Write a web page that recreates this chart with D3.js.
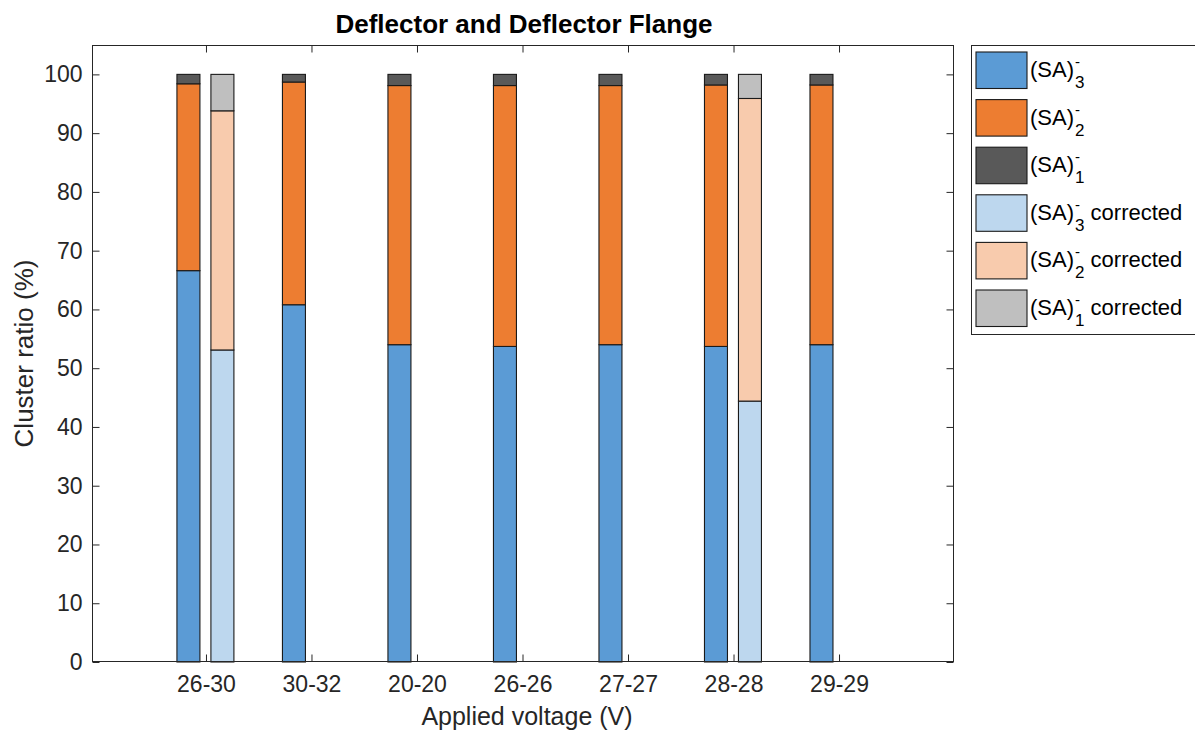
<!DOCTYPE html>
<html>
<head>
<meta charset="utf-8">
<script src="https://cdn.jsdelivr.net/npm/d3@7"></script>
<style>
  html, body { margin: 0; padding: 0; background: #fff; }
  svg { display: block; font-family: "Liberation Sans", Arial, Helvetica, sans-serif; }
</style>
</head>
<body>
<svg id="chart" width="1195" height="733"></svg>
<script>
// ---- data ----
const categories = ["26-30", "30-32", "20-20", "26-26", "27-27", "28-28", "29-29"];
// measured (original) cluster ratios (%)
const sa3 = [66.6, 60.8, 54.0, 53.7, 54.0, 53.7, 54.0];
const sa2 = [31.8, 37.9, 44.1, 44.4, 44.1, 44.5, 44.2];
const sa1 = [1.6, 1.3, 1.9, 1.9, 1.9, 1.8, 1.8];
// corrected cluster ratios (%) – only available for two voltages
const sa3c = [53.1, 0, 0, 0, 0, 44.4, 0];
const sa2c = [40.7, 0, 0, 0, 0, 51.5, 0];
const sa1c = [6.2, 0, 0, 0, 0, 4.1, 0];
const yTicks = [0, 10, 20, 30, 40, 50, 60, 70, 80, 90, 100];
const seriesNames = ["3", "2", "1", "3", "2", "1"];
const seriesSuffix = ["", "", "", " corrected", " corrected", " corrected"];
const colors = ["#5b9bd5", "#ed7d31", "#595959", "#bdd7ee", "#f8cbad", "#bfbfbf"];

// ---- layout ----
const svg = d3.select("#chart");
const L = 92, R = 954, T = 45, B = 662;
const ink = "#262626";

const x = d3.scaleBand().domain(categories).range([L, R]).paddingInner(0).paddingOuter(0.585);
const bw = x.bandwidth();
const xSub = d3.scaleBand().domain(["orig", "corr"]).range([bw * 0.22, bw * 0.76]).paddingInner(0.3235).paddingOuter(0);
const y = d3.scaleLinear().domain([0, 105]).range([B, T]);

// stacks
const origRows = categories.map((c, i) => ({ cat: c, a: sa3[i], b: sa2[i], c: sa1[i] }));
const corrRows = categories.map((c, i) => ({ cat: c, a: sa3c[i], b: sa2c[i], c: sa1c[i] }));
const stack = d3.stack().keys(["a", "b", "c"]);
const origStack = stack(origRows);
const corrStack = stack(corrRows);

svg.append("rect").attr("x", L).attr("y", T).attr("width", R - L).attr("height", B - T).attr("fill", "#fff");

function drawStack(st, group, colorOffset) {
  st.forEach((layer, k) => {
    svg.append("g").selectAll("rect").data(layer).join("rect")
      .attr("x", d => x(d.data.cat) + xSub(group))
      .attr("width", xSub.bandwidth())
      .attr("y", d => y(d[1]))
      .attr("height", d => Math.max(0, y(d[0]) - y(d[1])))
      .attr("fill", colors[colorOffset + k])
      .attr("stroke", "#1a1a1a")
      .attr("stroke-width", 1.1);
  });
}
drawStack(origStack, "orig", 0);
drawStack(corrStack, "corr", 3);

// axes box
svg.append("rect").attr("x", L + 0.5).attr("y", T + 0.5).attr("width", R - L - 1).attr("height", B - T - 1)
  .attr("fill", "none").attr("stroke", ink).attr("stroke-width", 1);

const tickFont = 23;
// y axis (ticks inward, mirrored)
const gy = svg.append("g").attr("transform", `translate(${L + 0.5},0)`)
  .call(d3.axisLeft(y).tickValues(yTicks).tickSizeInner(-7).tickSizeOuter(0).tickPadding(10));
gy.select(".domain").remove();
gy.selectAll("line").attr("stroke", ink);
gy.selectAll("text").attr("fill", ink).attr("font-size", tickFont).attr("font-family", "Liberation Sans, Arial, sans-serif");

const gyr = svg.append("g").attr("transform", `translate(${R - 0.5},0)`)
  .call(d3.axisRight(y).tickValues(yTicks).tickSizeInner(-7).tickSizeOuter(0).tickFormat(""));
gyr.select(".domain").remove();
gyr.selectAll("line").attr("stroke", ink);

// x axis
const gx = svg.append("g").attr("transform", `translate(0,${B - 0.5})`)
  .call(d3.axisBottom(x).tickSizeInner(-7).tickSizeOuter(0).tickPadding(14));
gx.select(".domain").remove();
gx.selectAll("line").attr("stroke", ink);
gx.selectAll("text").attr("fill", ink).attr("font-size", tickFont).attr("font-family", "Liberation Sans, Arial, sans-serif");

const gxt = svg.append("g").attr("transform", `translate(0,${T + 0.5})`)
  .call(d3.axisTop(x).tickSizeInner(-7).tickSizeOuter(0).tickFormat(""));
gxt.select(".domain").remove();
gxt.selectAll("line").attr("stroke", ink);

// title & labels
svg.append("text").attr("x", (L + R) / 2 + 1).attr("y", 33).attr("text-anchor", "middle")
  .attr("font-size", 26).attr("font-weight", "bold").attr("fill", "#000")
  .text("Deflector and Deflector Flange");
svg.append("text").attr("x", (L + R) / 2 + 4).attr("y", 725).attr("text-anchor", "middle")
  .attr("font-size", 25).attr("fill", ink).text("Applied voltage (V)");
svg.append("text").attr("transform", `translate(33,${(T + B) / 2}) rotate(-90)`).attr("text-anchor", "middle")
  .attr("font-size", 26).attr("fill", ink).text("Cluster ratio (%)");

// legend
const lgX = 971, lgY = 45, lgStep = 47.6;
svg.append("rect").attr("x", lgX + 0.5).attr("y", lgY + 0.5).attr("width", 300).attr("height", 289)
  .attr("fill", "#fff").attr("stroke", ink).attr("stroke-width", 1);
seriesNames.forEach((n, i) => {
  const gy0 = lgY + 7 + i * lgStep;
  const g = svg.append("g");
  g.append("rect").attr("x", lgX + 5).attr("y", gy0).attr("width", 51).attr("height", 36.5)
    .attr("fill", colors[i]).attr("stroke", "#1a1a1a").attr("stroke-width", 1.1);
  const base = gy0 + 25;
  const t = g.append("text").attr("x", lgX + 59).attr("y", base).attr("font-size", 22).attr("fill", "#000").text("(SA)");
  const w = t.node().getComputedTextLength();
  const sx = lgX + 59 + w + 1;
  g.append("text").attr("x", sx).attr("y", base - 10).attr("font-size", 15).attr("fill", "#000").text("-");
  const sub = g.append("text").attr("x", sx).attr("y", base + 11).attr("font-size", 17).attr("fill", "#000").text(n);
  const sw = sub.node().getComputedTextLength();
  if (seriesSuffix[i]) {
    g.append("text").attr("x", sx + sw).attr("y", base).attr("font-size", 22).attr("fill", "#000")
      .style("white-space", "pre").text(seriesSuffix[i]);
  }
});
</script>
</body>
</html>
